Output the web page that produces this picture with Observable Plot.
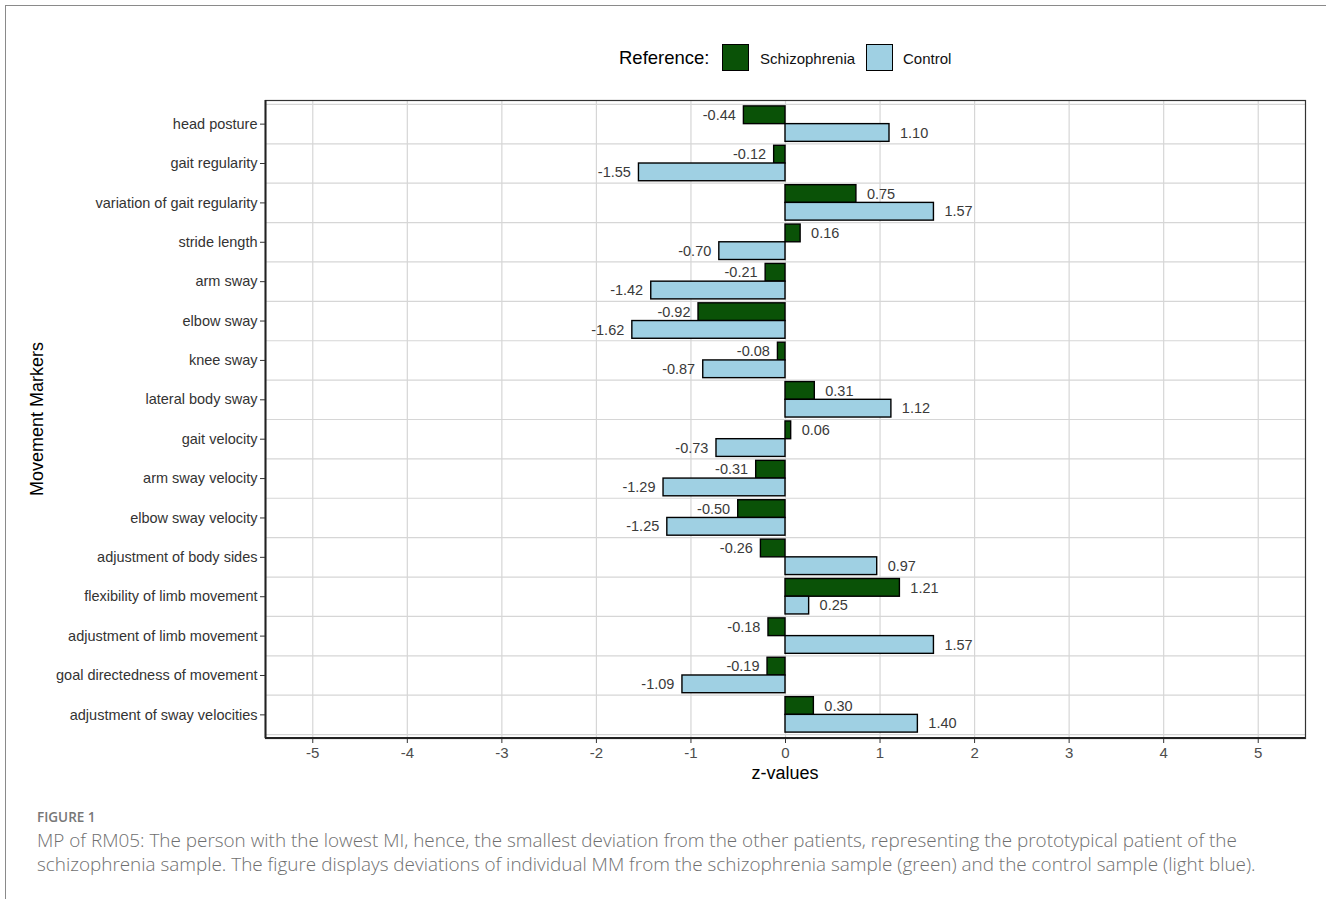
<!DOCTYPE html>
<html>
<head>
<meta charset="utf-8">
<script src="https://cdn.jsdelivr.net/npm/d3@7"></script>
<script src="https://cdn.jsdelivr.net/npm/@observablehq/plot@0.6"></script>
<style>
  html, body { margin: 0; padding: 0; background: #fff; }
  #page { position: relative; width: 1326px; height: 899px; overflow: hidden; font-family: "Liberation Sans", Arial, sans-serif; }
  #frame { position: absolute; left: 5px; top: 5px; width: 1330px; height: 900px; border-top: 1.5px solid #8a8a8a; border-left: 1.5px solid #8a8a8a; }
  #legend { position: absolute; top: 44px; left: 0; width: 1326px; height: 28px; }
  #legend .t { position: absolute; top: 3px; font-size: 18.5px; color: #000; }
  #legend .i { position: absolute; top: 6px; font-size: 15px; color: #111; }
  #legend .sw { position: absolute; top: 0; width: 27px; height: 27px; border: 1.5px solid #000; box-sizing: border-box; }
  #chart { position: absolute; left: 0; top: 90px; }
  #chart svg, #chart svg text { font-family: "Liberation Sans", Arial, sans-serif !important; }
  #fig { position: absolute; left: 37px; top: 809px; font-family: "Open Sans", sans-serif; font-size: 13.5px; line-height: 16px; color: #777; font-weight: 600; }
  .cap { position: absolute; left: 37px; font-family: "Open Sans", sans-serif; font-size: 18.9px; line-height: 22px; height: 22px; color: #6f6f6f; white-space: nowrap; font-weight: 300; }
</style>
</head>
<body>
<div id="page">
  <div id="frame"></div>
  <div id="legend">
    <span class="t" style="left:619px">Reference:</span>
    <div class="sw" style="left:722px;background:#0a5207"></div>
    <span class="i" style="left:760px">Schizophrenia</span>
    <div class="sw" style="left:866px;background:#9fd0e3"></div>
    <span class="i" style="left:903px">Control</span>
  </div>
  <div id="chart"></div>
  <div id="fig">FIGURE 1</div>
  <div class="cap" style="top:829px">MP of RM05: The person with the lowest MI, hence, the smallest deviation from the other patients, representing the prototypical patient of the</div>
  <div class="cap" style="top:853px">schizophrenia sample. The figure displays deviations of individual MM from the schizophrenia sample (green) and the control sample (light blue).</div>
</div>
<script>
const markers = [
  "head posture", "gait regularity", "variation of gait regularity", "stride length",
  "arm sway", "elbow sway", "knee sway", "lateral body sway", "gait velocity",
  "arm sway velocity", "elbow sway velocity", "adjustment of body sides",
  "flexibility of limb movement", "adjustment of limb movement",
  "goal directedness of movement", "adjustment of sway velocities"
];
const schizophrenia = [-0.44, -0.12, 0.75, 0.16, -0.21, -0.92, -0.08, 0.31, 0.06, -0.31, -0.50, -0.26, 1.21, -0.18, -0.19, 0.30];
const control = [1.10, -1.55, 1.57, -0.70, -1.42, -1.62, -0.87, 1.12, -0.73, -1.29, -1.25, 0.97, 0.25, 1.57, -1.09, 1.40];
const xTicks = [-5, -4, -3, -2, -1, 0, 1, 2, 3, 4, 5];
const groups = ["Schizophrenia", "Control"];
const colors = ["#0a5207", "#9fd0e3"];

const S = markers.map((m, i) => ({marker: m, value: schizophrenia[i]}));
const C = markers.map((m, i) => ({marker: m, value: control[i]}));

const W = 1326, H = 710;
const mTop = 10, mBottom = 62, mLeft = 265, mRight = 21;
const step = (H - mTop - mBottom) / (markers.length + 0.2);
const half = step / 2;
const nudge = v => v + (v < 0 ? -0.26 : 0.26);
const fmt = v => v.toFixed(2);

const plot = Plot.plot({
  width: W, height: H,
  marginTop: mTop, marginBottom: mBottom, marginLeft: mLeft, marginRight: mRight,
  style: {fontFamily: "Liberation Sans, Arial, sans-serif", background: "transparent"},
  x: {domain: [-5.5, 5.5], ticks: xTicks, label: null},
  y: {domain: markers, type: "band", paddingInner: 0, paddingOuter: 0.1, round: false, label: null},
  marks: [
    Plot.ruleX(xTicks, {stroke: "#d6d6d6", strokeWidth: 1.2}),
    Plot.ruleY(markers, {y: d => d, dy: -half, stroke: "#d6d6d6", strokeWidth: 1.2}),
    Plot.ruleY(markers.slice(-1), {y: d => d, dy: half, stroke: "#d6d6d6", strokeWidth: 1.2}),
    Plot.barX(S, {x: "value", y: "marker", fill: colors[0], stroke: "#000", strokeWidth: 1.4, insetTop: 0.05 * step, insetBottom: half}),
    Plot.barX(C, {x: "value", y: "marker", fill: colors[1], stroke: "#000", strokeWidth: 1.4, insetTop: half, insetBottom: 0.05 * step}),
    Plot.text(S, {x: d => nudge(d.value), y: "marker", text: d => fmt(d.value), dy: -0.225 * step, fontSize: 14.5, fill: "#3a3a3a"}),
    Plot.text(C, {x: d => nudge(d.value), y: "marker", text: d => fmt(d.value), dy: 0.225 * step, fontSize: 14.5, fill: "#3a3a3a"}),
    Plot.frame({stroke: "#333", strokeWidth: 1.2}),
    Plot.ruleX([-5.5], {stroke: "#222", strokeWidth: 2}),
    Plot.axisX({ticks: xTicks, tickFormat: d => String(d), tickSize: 5, tickPadding: 4, fontSize: 15, color: "#4d4d4d", stroke: "#333", label: null}),
    Plot.axisY({tickSize: 5, tickPadding: 3, fontSize: 14.5, color: "#333", stroke: "#333", label: null})
  ]
});
document.getElementById("chart").appendChild(plot);

// bottom axis line and axis titles drawn in the same SVG
const svg = d3.select(plot);
svg.append("line")
  .attr("x1", mLeft).attr("x2", W - mRight)
  .attr("y1", H - mBottom).attr("y2", H - mBottom)
  .attr("stroke", "#222").attr("stroke-width", 2);
svg.append("text")
  .attr("x", mLeft + (W - mLeft - mRight) / 2).attr("y", H - mBottom + 41)
  .attr("text-anchor", "middle").attr("font-size", 18).attr("fill", "#000")
  .text("z-values");
svg.append("text")
  .attr("transform", `translate(43,${mTop + (H - mTop - mBottom) / 2}) rotate(-90)`)
  .attr("text-anchor", "middle").attr("font-size", 18).attr("fill", "#000")
  .text("Movement Markers");
</script>
</body>
</html>
